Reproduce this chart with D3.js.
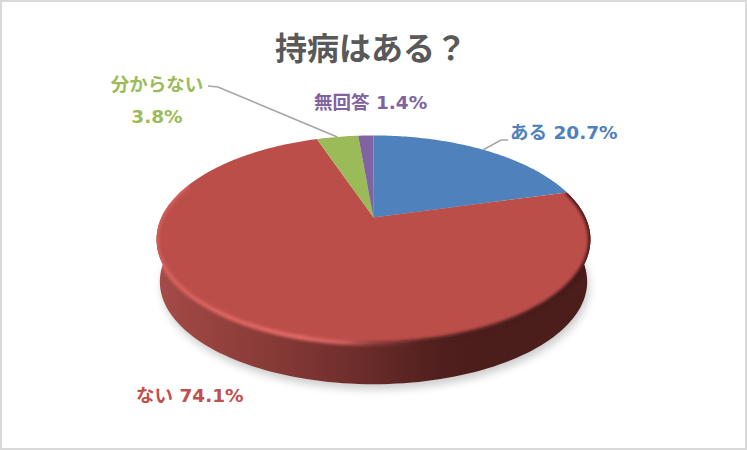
<!DOCTYPE html>
<html><head><meta charset="utf-8">
<script src="https://cdn.jsdelivr.net/npm/d3@7"></script>
<style>html,body{margin:0;padding:0;background:#fff;overflow:hidden}svg{display:block}
text{font-family:"DejaVu Sans","Noto Sans CJK JP",sans-serif}</style></head><body>
<svg id="c" width="747" height="450"></svg>
<script>
const categories = ["ある","ない","分からない","無回答"];
const values = [20.7,74.1,3.8,1.4];
const colors = ["#4f81bd","#bc4e4a","#9bbb59","#8064a2"];
const labelColors = ["#4f81bd","#c0504d","#9bbb59","#8064a2"];
const title = "持病はある？";

const W=747,H=450, cx=373.5, cy=217.5, A=212, B=99.4, K=0.2117, depth=42.5, shrink=0.985;
const svg=d3.select("#c");
const defs=svg.append("defs");
function proj(a,z=0){ // a clockwise from top; z 0 top face, 1 bottom ring
  const u=Math.sin(a), v=Math.cos(a), f=1/(1+K*v), s=1-(1-shrink)*z;
  return [cx+A*u*f*s, cy-B*v*f*s+depth*z];
}
const arcs=d3.pie().value(d=>d).sort(null)(values);
const line=d3.line();
function ring(a0,a1,z,n=120){ return d3.range(n+1).map(i=>proj(a0+(a1-a0)*i/n,z)); }

// frame
svg.append("rect").attr("x",1).attr("y",1).attr("width",W-2).attr("height",H-2)
 .attr("fill","#fff").attr("stroke","#d9d9d9").attr("stroke-width",2);

// filters / gradients
const f1=defs.append("filter").attr("id","sh").attr("x","-20%").attr("y","-20%").attr("width","140%").attr("height","140%");
f1.append("feGaussianBlur").attr("stdDeviation",4);
const f2=defs.append("filter").attr("id","bl").attr("x","-20%").attr("y","-20%").attr("width","140%").attr("height","140%");
f2.append("feGaussianBlur").attr("stdDeviation",1.7);
const sg=defs.append("linearGradient").attr("id","side").attr("gradientUnits","userSpaceOnUse")
 .attr("x1",155).attr("x2",592).attr("y1",0).attr("y2",0);
[[0,"#a54c49"],[0.12,"#97433f"],[0.3,"#833835"],[0.48,"#6a2c2a"],[0.62,"#54211f"],[0.72,"#4b1d1b"],[1,"#4b1d1b"]]
 .forEach(s=>sg.append("stop").attr("offset",s[0]).attr("stop-color",s[1]));
const rg=defs.append("linearGradient").attr("id","rim").attr("gradientUnits","userSpaceOnUse")
 .attr("x1",155).attr("x2",592).attr("y1",0).attr("y2",0);
[[0,"#d45f5b"],[0.15,"#de6360"],[0.33,"#e26a66"],[0.43,"#cf5f5b"],[0.5,"#8a3b38"],[0.62,"#4f201e"],[1,"#3f1817"]]
 .forEach(s=>rg.append("stop").attr("offset",s[0]).attr("stop-color",s[1]));

// soft shadow below the body
const full=ring(0,2*Math.PI,1,240).map(p=>[p[0]+2,p[1]+5]);
svg.append("path").attr("d",line(full)+"Z").attr("fill","#000").attr("opacity",.2).attr("filter","url(#sh)");

// side wall, front part of each slice
const bodyClip=defs.append("clipPath").attr("id","body");
arcs.forEach(d=>{
  const a0=Math.max(d.startAngle,Math.PI/2-0.15), a1=Math.min(d.endAngle,3*Math.PI/2+0.15);
  if(a1<=a0) return;
  const pts=ring(a0,a1,0).concat(ring(a1,a0,1));
  svg.append("path").attr("d",line(pts)+"Z").attr("fill","url(#side)");
  bodyClip.append("path").attr("d",line(pts)+"Z");
});

// top face slices
bodyClip.append("path").attr("d",line(ring(0,2*Math.PI,0,360))+"Z");
arcs.forEach((d,i)=>{
  const n=Math.max(8,Math.round((d.endAngle-d.startAngle)*60));
  const pts=[[cx,cy]].concat(ring(d.startAngle,d.endAngle,0,n));
  svg.append("path").attr("d",line(pts)+"Z").attr("fill",colors[i]);
});
// bevel on the rim of the large slice, soft across the top edge
svg.append("g").attr("clip-path","url(#body)")
 .append("path").attr("d",line(ring(arcs[1].startAngle,3*Math.PI/2+0.35,0,200)))
 .attr("fill","none").attr("stroke","url(#rim)").attr("stroke-width",4.5).attr("filter","url(#bl)");

// labels
const g=svg.append("g");
g.append("text").text(title).attr("x",371).attr("y",60).attr("text-anchor","middle")
 .attr("font-size",32).attr("font-weight",700).attr("fill","#595959");
const labelAt=[[510,139,"start"],[136,402,"start"],[157,91,"middle"],[314,109,"start"]];
const fs=18.5;
arcs.forEach((d,i)=>{
  const t=`${categories[i]} ${values[i].toFixed(1)}%`, [x,y,an]=labelAt[i];
  const add=(s,yy)=>g.append("text").text(s).attr("x",x).attr("y",yy).attr("text-anchor",an)
      .attr("font-size",fs).attr("font-weight",700).attr("fill",labelColors[i]);
  if(i===2){ add(categories[i],y); add(values[i].toFixed(1)+"%",y+32); }
  else add(t,y);
});
// leader lines from mid-slice rim to label
const mid=d=>(d.startAngle+d.endAngle)/2;
const leaders=[[0,[[501,140],[508,140]]],[2,[[218,87],[208,86]]]];
leaders.forEach(([i,rest])=>{
  svg.append("path").attr("d",line([proj(mid(arcs[i]))].concat(rest)))
   .attr("fill","none").attr("stroke","#a6a6a6").attr("stroke-width",1.7);
});
</script></body></html>
